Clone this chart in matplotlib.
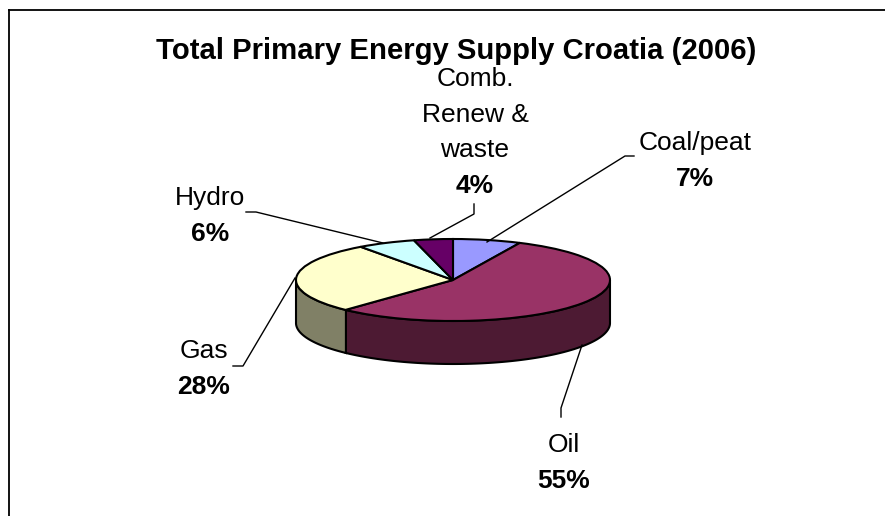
import numpy as np
import matplotlib
matplotlib.use("Agg")
import matplotlib.pyplot as plt

plt.rcParams['font.family'] = ['Liberation Sans', 'DejaVu Sans']

title = "Total Primary Energy Supply Croatia (2006)"
categories = ["Coal/peat", "Oil", "Gas", "Hydro", "Comb.\nRenew &\nwaste"]
shares = [7, 55, 28, 6, 4]
top_colors = ["#9999FF", "#993366", "#FFFFCC", "#CCFFFF", "#660066"]
side_colors = ["#4D4D80", "#4D1A33", "#808066", "#668080", "#330033"]

# pie geometry in pixels
W, H = 885, 516
cx, cy = 453, 280
rx, ry = 157, 41
depth = 43

fig = plt.figure(figsize=(W / 100, H / 100), dpi=100)

# pie axes: unit circle gets squashed into the ellipse
ax = fig.add_axes([0, 0, 1, 1], zorder=1)
ax.pie(shares, colors=top_colors, startangle=90, counterclock=False, radius=1,
       wedgeprops={"edgecolor": "black", "linewidth": 1.5, "zorder": 3})
ax.set_aspect("auto")
ax.set_xlim(-cx / rx, (W - cx) / rx)
ax.set_ylim(-(H - cy) / ry, cy / ry)
d = depth / ry

# side wall, only the front half (angles 180-360) can be seen
start = 90.0
for share, side in zip(shares, side_colors):
    end = start - share / sum(shares) * 360
    t = np.radians(np.arange(end, start + 0.5, 0.5))
    t = t[np.sin(t) <= 0]
    if len(t):
        xs = np.cos(t)
        ys = np.sin(t)
        ax.fill(np.r_[xs, xs[::-1]], np.r_[ys, ys[::-1] - d], facecolor=side,
                edgecolor="black", linewidth=1.5, zorder=2)
    start = end

# overlay in pixel coordinates for frame, leaders and labels
ov = fig.add_axes([0, 0, 1, 1], zorder=2)
ov.set_xlim(0, W)
ov.set_ylim(H, 0)
ov.axis("off")
ov.patch.set_alpha(0)

ov.plot([9, 9], [H, 10], color="black", lw=1.3)
ov.plot([9, W], [10, 10], color="black", lw=1.3)

ov.text(456, 59, title, ha="center", va="baseline", fontsize=21.1, fontweight="bold")

# x centre and first baseline of each label
label_pos = [(695, 150), (564, 452), (204, 358), (210, 205), (475, 86)]
line_step = 35.7
leaders = [
    [(487, 242), (625, 156), (634, 156)],
    [(582, 345), (561, 408), (561, 417)],
    [(295, 278), (243, 366), (233, 366)],
    [(383, 243), (256, 212), (246, 212)],
    [(430, 238), (474, 214), (474, 204)],
]
for name, share, (x, y), line in zip(categories, shares, label_pos, leaders):
    ov.plot(*zip(*line), color="black", lw=1.0, zorder=4)
    rows = name.split("\n")
    for i, row in enumerate(rows):
        ov.text(x, y + i * line_step, row, ha="center", va="baseline", fontsize=19)
    ov.text(x, y + len(rows) * line_step, f"{share}%", ha="center", va="baseline",
            fontsize=19, fontweight="bold")

fig.savefig("out.png", dpi=100)
